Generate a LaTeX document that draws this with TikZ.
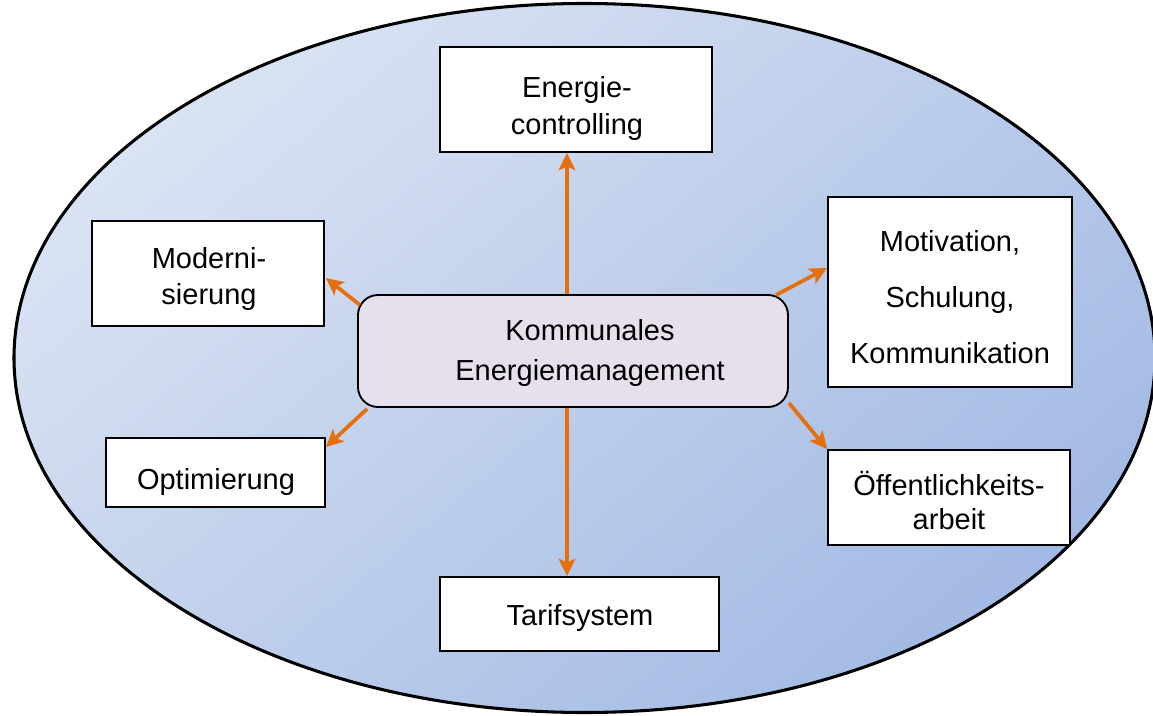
\documentclass[tikz,border=0pt]{standalone}
\usepackage{fontspec}
\setmainfont{Liberation Sans}
\usetikzlibrary{arrows.meta,calc,shapes.geometric}
\definecolor{ellLight}{RGB}{218,227,243}
\definecolor{ellDark}{RGB}{162,186,228}
\definecolor{centerFill}{RGB}{230,224,236}
\definecolor{arrowOrange}{RGB}{230,110,12}
\tikzset{
  box/.style={draw=black, line width=1.4pt, fill=white, inner sep=0pt},
  centerbox/.style={box, fill=centerFill, rounded corners=15pt},
  txt/.style={inner sep=0pt, align=center, font=\fontsize{21.75}{#1}\selectfont},
  txt/.default=27pt,
  conn/.style={draw=arrowOrange, line width=2.8pt,
    -{Stealth[length=13pt,width=12.5pt,inset=3pt]}},
}
\begin{document}
\begin{tikzpicture}[x=0.75pt,y=-0.75pt]
\useasboundingbox (0,0) rectangle (1153,716);
% big ellipse
\node[ellipse, draw=black, line width=2.3pt, minimum width=1141*0.75pt, minimum height=709*0.75pt,
  top color=ellLight, bottom color=ellDark, shading angle=40, inner sep=0pt] (ell) at (584.5,358) {};
% boxes
\node[centerbox, minimum width=430*0.75pt, minimum height=112*0.75pt] (c) at (573,351) {};
\node[box, minimum width=272*0.75pt, minimum height=105*0.75pt] (ec) at (576,99.5) {};
\node[box, minimum width=232*0.75pt, minimum height=105*0.75pt] (m) at (208,273.5) {};
\node[box, minimum width=244*0.75pt, minimum height=190*0.75pt] (mot) at (950,292) {};
\node[box, minimum width=219*0.75pt, minimum height=69*0.75pt] (o) at (215.5,472.5) {};
\node[box, minimum width=242*0.75pt, minimum height=95*0.75pt] (oe) at (949,497.5) {};
\node[box, minimum width=279*0.75pt, minimum height=74*0.75pt] (t) at (579.5,614) {};
% texts
\node[txt=29.3pt] (ct) at (590,353) {Kommunales\\Energiemanagement};
\node[txt=28pt] (ect) at (577,108.5) {Energie-\\controlling};
\node[txt=27pt] (mt) at (209,279.5) {Moderni-\\sierung};
\node[txt=42pt] (mott) at (950,297.1) {Motivation,\\Schulung,\\Kommunikation};
\node[txt] (ot) at (216,482) {Optimierung};
\node[txt=25.5pt] (oet) at (949,501) {Öffentlichkeits-\\arbeit};
\node[txt] (tt) at (580,618) {Tarifsystem};
% connectors
\draw[conn] ($(c.north)+(-6,0)$) -- ($(ec.south)+(-9,0)$);
\draw[conn] ($(c.south)+(-6,0)$) -- ($(t.north)+(-12.5,0)$);
\draw[conn] ($(c.north west)+(3,11)$) -- ($(m.east)+(1,4.5)$);
\draw[conn] ($(c.south west)+(10,1)$) -- ($(o.north east)+(0,10)$);
\draw[conn] ($(c.north east)+(-13,1)$) -- ($(mot.west)+(0,-24)$);
\draw[conn] ($(c.south east)+(0,-5)$) -- (oe.north west);
\end{tikzpicture}
\end{document}
